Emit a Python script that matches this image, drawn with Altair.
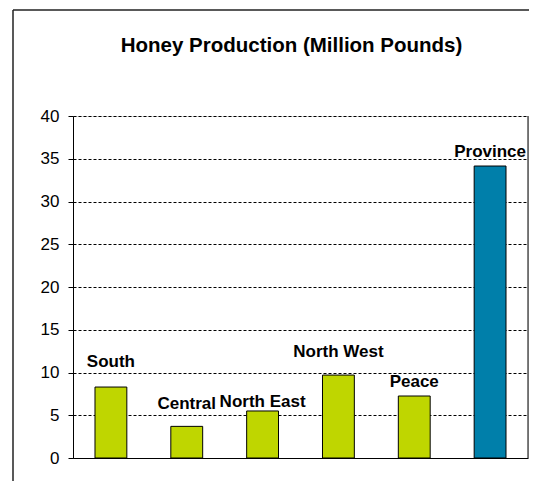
import altair as alt
import pandas as pd

regions = ["South", "Central", "North East", "North West", "Peace", "Province"]
production = [8.3, 3.7, 5.5, 9.7, 7.25, 34.15]
label_level = [10.7, 5.73, 5.97, 11.81, 8.31, 35.2]
group = ["Region", "Region", "Region", "Region", "Region", "Total"]

df = pd.DataFrame({"region": regions, "value": production,
                   "label_y": label_level, "group": group})

W, H = 455, 342
FONT = "Liberation Sans"

x_enc = alt.X("region:N", sort=regions,
              scale=alt.Scale(paddingInner=0.58, paddingOuter=0.29),
              axis=alt.Axis(title=None, labels=False, ticks=False,
                            domainColor="black", domainWidth=1))
y_scale = alt.Scale(domain=[0, 40], nice=False)

bars = alt.Chart(df).mark_bar(stroke="black", strokeWidth=1).encode(
    x=x_enc,
    y=alt.Y("value:Q", scale=y_scale,
            axis=alt.Axis(title=None, values=[0, 5, 10, 15, 20, 25, 30, 35, 40],
                          grid=True, gridColor="black", gridDash=[3, 2],
                          gridWidth=1, domainColor="black", domainWidth=1,
                          tickColor="black", tickSize=5, labelPadding=9,
                          labelFont=FONT, labelFontSize=17, labelColor="black")),
    color=alt.Color("group:N", scale=alt.Scale(domain=["Region", "Total"],
                                              range=["#BFD600", "#007FAA"]),
                    legend=None),
)

labels = alt.Chart(df).mark_text(font=FONT, fontSize=17, fontWeight="bold",
                                 color="black", baseline="alphabetic").encode(
    x=alt.X("region:N", sort=regions),
    y=alt.Y("label_y:Q", scale=y_scale),
    text="region:N",
)

one = pd.DataFrame({"a": [0]})
right_border = alt.Chart(one).mark_rule(color="black", strokeWidth=1).encode(
    x=alt.value(W), y=alt.datum(0), y2=alt.datum(40))
frame_left = alt.Chart(one).mark_rule(color="#222", strokeWidth=1.5).encode(
    x=alt.value(-60), y=alt.value(-106), y2=alt.value(366))
frame_top = alt.Chart(one).mark_rule(color="#222", strokeWidth=1.5).encode(
    x=alt.value(-60), x2=alt.value(W + 1), y=alt.value(-106))

chart = alt.layer(bars, labels, right_border, frame_left, frame_top).properties(
    width=W, height=H,
    autosize=alt.AutoSizeParams(type="none"),
    padding={"left": 65, "top": 108, "right": 1, "bottom": 23},
    title=alt.TitleParams("Honey Production (Million Pounds)", font=FONT,
                          fontSize=20.5, fontWeight="bold", color="black",
                          anchor="middle", baseline="alphabetic", offset=-63, dx=-9),
).configure_view(stroke=None).configure(background="white")

chart.save("out.html", embed_options={"renderer": "svg", "actions": False})
